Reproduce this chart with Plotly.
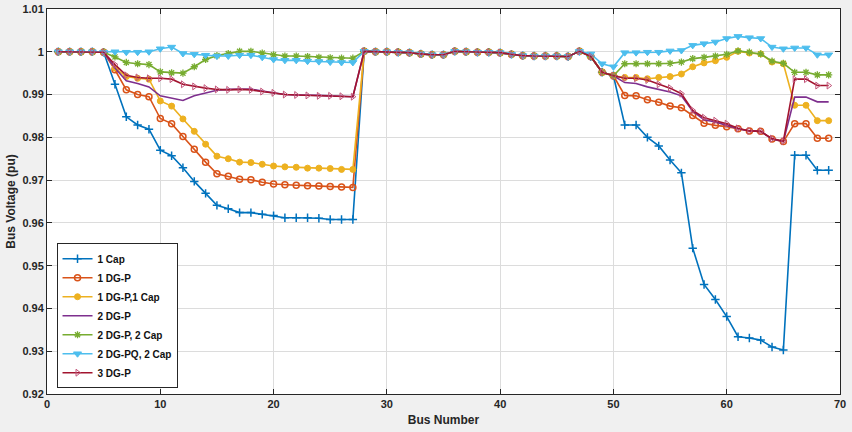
import plotly.graph_objects as go

buses = list(range(1, 70))

# shared values for buses 28-50 (lateral branches, nearly identical for all cases)
common_28_50 = [1.0001, 1.0000, 1.0000, 0.9999, 0.9998, 0.9995, 0.9993, 0.9993,
                1.0001, 1.0000, 0.9999, 0.9999, 0.9998, 0.9994, 0.9991, 0.9990,
                0.9990, 0.9990, 0.9989, 1.0001, 0.9989, 0.9952, 0.9944]
head_1_5 = [1.0, 1.0, 1.0, 1.0, 0.9999]

cap1 = head_1_5 + [0.9924, 0.9848, 0.9829, 0.9819, 0.9770, 0.9757, 0.9729, 0.9697, 0.9669,
                   0.9641, 0.9633, 0.9624, 0.9624, 0.9620, 0.9617, 0.9612, 0.9612, 0.9612,
                   0.9611, 0.9608, 0.9608, 0.9608] + common_28_50 + \
       [0.9829, 0.9829, 0.9800, 0.9780, 0.9747, 0.9717, 0.9541, 0.9456, 0.9421, 0.9381,
        0.9334, 0.9331, 0.9326, 0.9310, 0.9303, 0.9758, 0.9758, 0.9723, 0.9723]

dgp1 = head_1_5 + [0.9958, 0.9911, 0.9900, 0.9895, 0.9844, 0.9832, 0.9802, 0.9772, 0.9742,
                   0.9715, 0.9709, 0.9702, 0.9701, 0.9695, 0.9691, 0.9689, 0.9688, 0.9687,
                   0.9686, 0.9685, 0.9684, 0.9683] + common_28_50 + \
       [0.9898, 0.9897, 0.9888, 0.9882, 0.9873, 0.9869, 0.9851, 0.9833, 0.9828, 0.9825,
        0.9820, 0.9815, 0.9814, 0.9796, 0.9790, 0.9832, 0.9832, 0.9798, 0.9798]

dgp1_cap1 = head_1_5 + [0.9962, 0.9942, 0.9938, 0.9936, 0.9885, 0.9873, 0.9843, 0.9814, 0.9784,
                        0.9756, 0.9750, 0.9742, 0.9741, 0.9737, 0.9733, 0.9731, 0.9730, 0.9728,
                        0.9728, 0.9727, 0.9725, 0.9725] + common_28_50 + \
            [0.9940, 0.9940, 0.9937, 0.9940, 0.9942, 0.9948, 0.9965, 0.9974, 0.9979, 0.9987,
             1.0001, 0.9997, 0.9995, 0.9976, 0.9972, 0.9875, 0.9875, 0.9839, 0.9839]

dgp2 = head_1_5 + [0.9962, 0.9932, 0.9926, 0.9918, 0.9897, 0.9891, 0.9886, 0.9897, 0.9904,
                   0.9910, 0.9912, 0.9913, 0.9913, 0.9908, 0.9904, 0.9900, 0.9899, 0.9899,
                   0.9898, 0.9897, 0.9896, 0.9895] + common_28_50 + \
       [0.9928, 0.9926, 0.9918, 0.9912, 0.9906, 0.9897, 0.9861, 0.9841, 0.9836, 0.9828,
        0.9820, 0.9815, 0.9814, 0.9796, 0.9790, 0.9894, 0.9894, 0.9883, 0.9883]

dgp2_cap2 = head_1_5 + [0.9988, 0.9975, 0.9972, 0.9970, 0.9953, 0.9951, 0.9950, 0.9965, 0.9982,
                        0.9991, 0.9996, 1.0001, 1.0001, 0.9997, 0.9993, 0.9990, 0.9990, 0.9989,
                        0.9987, 0.9986, 0.9985, 0.9985] + common_28_50 + \
            [0.9972, 0.9972, 0.9972, 0.9972, 0.9973, 0.9976, 0.9984, 0.9987, 0.9990, 0.9994,
             1.0002, 0.9999, 0.9995, 0.9978, 0.9973, 0.9952, 0.9952, 0.9946, 0.9946]

dgpq2_cap2 = head_1_5 + [1.0000, 0.9999, 0.9999, 1.0000, 1.0007, 1.0011, 0.9996, 0.9994, 0.9992,
                         0.9990, 0.9990, 0.9992, 0.9992, 0.9987, 0.9982, 0.9980, 0.9980, 0.9978,
                         0.9977, 0.9976, 0.9975, 0.9975] + common_28_50[:20] + [0.9995, 0.9972, 0.9965] + \
             [0.9998, 0.9998, 0.9999, 0.9999, 1.0002, 1.0003, 1.0015, 1.0019, 1.0023, 1.0031,
              1.0036, 1.0033, 1.0031, 1.0011, 1.0007, 1.0009, 1.0009, 0.9993, 0.9993]

dgp3 = head_1_5 + [0.9970, 0.9945, 0.9940, 0.9938, 0.9938, 0.9936, 0.9924, 0.9919, 0.9915,
                   0.9912, 0.9911, 0.9912, 0.9911, 0.9907, 0.9904, 0.9900, 0.9899, 0.9898,
                   0.9897, 0.9897, 0.9896, 0.9895] + common_28_50 + \
       [0.9938, 0.9938, 0.9934, 0.9924, 0.9915, 0.9902, 0.9863, 0.9846, 0.9839, 0.9832,
        0.9821, 0.9815, 0.9814, 0.9797, 0.9791, 0.9936, 0.9936, 0.9921, 0.9921]

series_names = ["1 Cap", "1 DG-P", "1 DG-P,1 Cap", "2 DG-P", "2 DG-P, 2 Cap", "2 DG-PQ, 2 Cap", "3 DG-P"]
series_values = [cap1, dgp1, dgp1_cap1, dgp2, dgp2_cap2, dgpq2_cap2, dgp3]

x_ticks = [0, 10, 20, 30, 40, 50, 60, 70]
y_ticks = [0.92, 0.93, 0.94, 0.95, 0.96, 0.97, 0.98, 0.99, 1.0, 1.01]
y_tick_labels = ["0.92", "0.93", "0.94", "0.95", "0.96", "0.97", "0.98", "0.99", "1", "1.01"]

styles = [
    dict(color="#0072BD", mcolor="#0072BD", symbol="cross-thin-open", size=6, lw=1.5),
    dict(color="#D95319", mcolor="#D95319", symbol="circle-open", size=6, lw=1.5),
    dict(color="#EDB120", mcolor="#EDB120", symbol="circle", size=6, lw=1),
    dict(color="#7E2F8E", mcolor="#7E2F8E", symbol=None, size=0, lw=0),
    dict(color="#77AC30", mcolor="#77AC30", symbol="asterisk-open", size=6, lw=1.3),
    dict(color="#4DBEEE", mcolor="#4DBEEE", symbol="triangle-down", size=7, lw=1),
    dict(color="#A2142F", mcolor="#C2557A", symbol="triangle-right-open", size=6, lw=1),
]

fig = go.Figure()
for name, vals, st in zip(series_names, series_values, styles):
    if st["symbol"] is None:
        fig.add_trace(go.Scatter(x=buses, y=vals, name=name, mode="lines",
                                 line=dict(color=st["color"], width=1.6)))
    else:
        fig.add_trace(go.Scatter(x=buses, y=vals, name=name, mode="lines+markers",
                                 line=dict(color=st["color"], width=1.6),
                                 marker=dict(symbol=st["symbol"], size=st["size"], color=st["mcolor"],
                                             line=dict(color=st["mcolor"], width=st["lw"]))))

fam = "Liberation Sans, Arial, sans-serif"
axis_font = dict(family=fam, size=11, color="#262626", weight="bold")
fig.update_layout(
    width=852, height=432,
    margin=dict(l=47, r=12, t=9, b=38),
    paper_bgcolor="#F0F0F0",
    plot_bgcolor="#FFFFFF",
    showlegend=True,
    legend=dict(x=0.012, y=0.015, xanchor="left", yanchor="bottom",
                bgcolor="#FFFFFF", bordercolor="#262626", borderwidth=1,
                font=dict(family=fam, size=10, color="#111111", weight="bold"),
                itemwidth=30, tracegroupgap=0),
    xaxis=dict(range=[0, 70], tickvals=x_ticks, ticks="inside", ticklen=5, tickcolor="#262626",
               showgrid=True, gridcolor="#DCDCDC", gridwidth=1, zeroline=False,
               showline=True, linecolor="#262626", linewidth=1, mirror="ticks",
               tickfont=axis_font,
               title=dict(text="Bus Number", font=dict(family=fam, size=12, color="#262626", weight="bold"), standoff=6)),
    yaxis=dict(range=[0.92, 1.01], tickvals=y_ticks, ticktext=y_tick_labels, ticks="inside", ticklen=5,
               tickcolor="#262626", showgrid=True, gridcolor="#DCDCDC", gridwidth=1, zeroline=False,
               showline=True, linecolor="#262626", linewidth=1, mirror="ticks",
               tickfont=axis_font,
               title=dict(text="Bus Voltage (pu)", font=dict(family=fam, size=12, color="#262626", weight="bold"), standoff=4)),
)
fig.update_xaxes(automargin=False)
fig.update_yaxes(automargin=False)

fig.write_html("out.html")
